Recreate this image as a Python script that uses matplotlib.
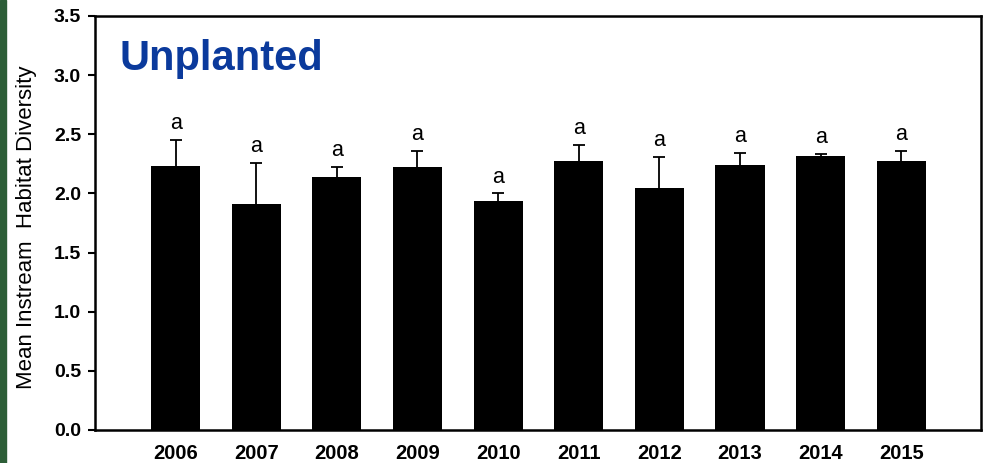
import matplotlib
matplotlib.use('Agg')
import matplotlib.pyplot as plt
import numpy as np

plt.rcParams['font.family'] = ['Liberation Sans', 'DejaVu Sans']

# data
years = ['2006', '2007', '2008', '2009', '2010', '2011', '2012', '2013', '2014', '2015']
means = [2.23, 1.91, 2.14, 2.22, 1.94, 2.27, 2.05, 2.24, 2.32, 2.27]
err_up = [0.22, 0.35, 0.08, 0.14, 0.06, 0.14, 0.26, 0.10, 0.01, 0.09]
letters = ['a'] * 10

fig = plt.figure(figsize=(9.86, 4.63), dpi=100)
# green strip on the left edge
fig.patches.append(plt.Rectangle((0, 0), 6 / 986, 1, transform=fig.transFigure,
                                 color='#2d5e38', zorder=0))
ax = fig.add_axes([95 / 986, 33 / 463, 886 / 986, 414 / 463])

x = np.arange(len(years))
ax.bar(x, means, width=0.61, color='black', zorder=2)
eb = ax.errorbar(x, means, yerr=[np.zeros(len(x)), err_up], fmt='none', ecolor='black',
                 elinewidth=1.3, capsize=4, capthick=1.3, zorder=1)
# only the upper cap
eb[1][0].set_visible(False)
for xi, m, e, l in zip(x, means, err_up, letters):
    ax.text(xi, m + e + 0.05, l, ha='center', va='bottom', fontsize=15.5)

ax.set_xlim(-1, 9.99)
ax.set_ylim(0, 3.5)
ax.set_yticks(np.arange(0, 3.51, 0.5))
ax.set_yticklabels(['%.1f' % v for v in np.arange(0, 3.51, 0.5)], fontweight='bold', fontsize=14)
ax.set_xticks(x)
ax.set_xticklabels(years, fontweight='bold', fontsize=14.5)
ax.tick_params(axis='x', length=0, pad=10)
ax.tick_params(axis='y', direction='out', length=5, width=1.5, pad=5)
for s in ax.spines.values():
    s.set_linewidth(1.8)

ax.set_ylabel('Mean Instream  Habitat Diversity', fontsize=16)
ax.yaxis.set_label_coords(-0.066, 0.49)

ax.text(0.028, 0.87, 'Unplanted', transform=ax.transAxes, fontsize=30,
        fontweight='bold', color='#0b3a9c', ha='left', va='baseline')

fig.savefig('out.png', dpi=100)
